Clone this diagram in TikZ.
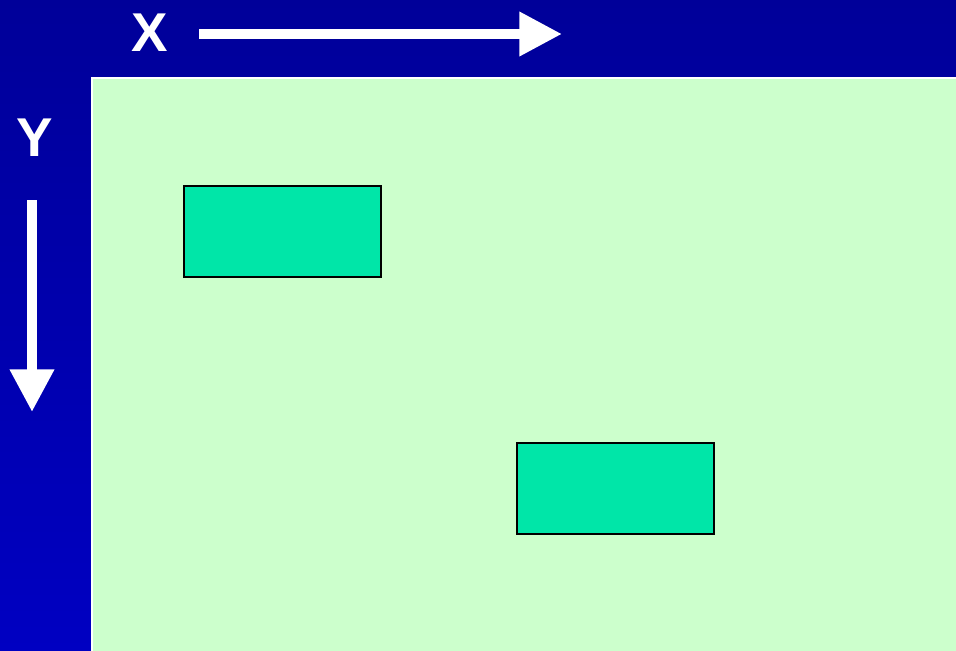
\documentclass[tikz,border=0pt]{standalone}
\usepackage{fontspec}
\setmainfont{Liberation Sans}
\usetikzlibrary{arrows.meta}
\definecolor{topblue}{RGB}{0,0,153}
\definecolor{bottomblue}{RGB}{0,0,194}
\definecolor{panelgreen}{RGB}{204,255,204}
\definecolor{boxteal}{RGB}{0,230,168}
\tikzset{
	axisarrow/.style = {white, line width=7.5pt, -{Triangle[length=32pt,width=31.5pt]}},
	axislabel/.style = {text=white, inner sep=0pt, font=\fontsize{41}{41}\selectfont\bfseries},
	window/.style = {draw=black, line width=1.4pt, fill=boxteal, inner sep=0pt, anchor=north west,
		minimum width=147.75pt, minimum height=68.25pt}
}
\begin{document}
\begin{tikzpicture} [x = 0.75pt, y = -0.75pt]
	\useasboundingbox (0,0) rectangle (956,650);
	% screen and drawing area
	\shade [top color = topblue, bottom color = bottomblue] (0,0) rectangle (956,650);
	\draw [white, line width = 0.8pt, fill = panelgreen] (92,78) rectangle (958,652);
	% axes
	\node [axislabel] (xlabel) at (150,33) {X};
	\node [axislabel] (ylabel) at (35,138) {Y};
	\coordinate (xtail) at (199,34);
	\coordinate (xhead) at (562,34);
	\coordinate (ytail) at (32,200);
	\coordinate (yhead) at (32,412);
	\draw [axisarrow] (xtail) -- (xhead);
	\draw [axisarrow] (ytail) -- (yhead);
	% windows
	\node [window] (first) at (183,185) {};
	\node [window] (second) at (516,442) {};
\end{tikzpicture}
\end{document}
